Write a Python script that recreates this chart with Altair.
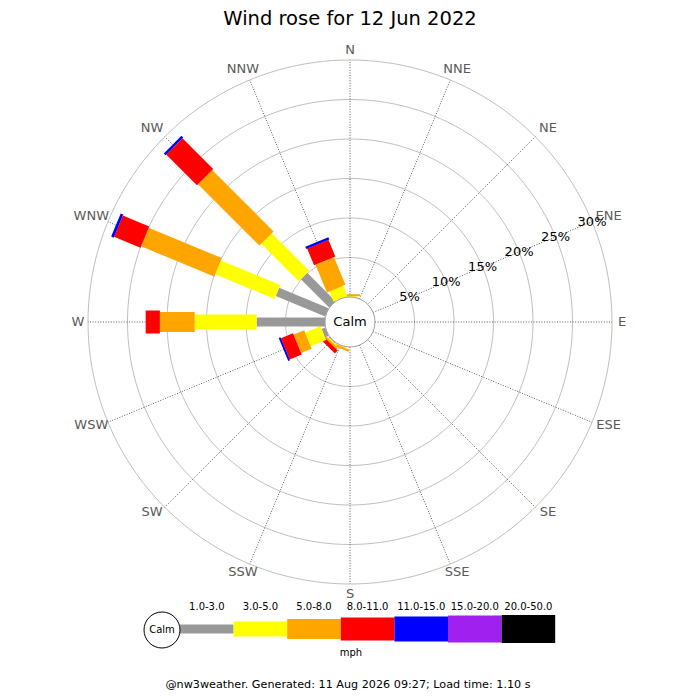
import math
import altair as alt
import pandas as pd

# ---------------- data ----------------
directions = ["N", "NNE", "NE", "ENE", "E", "ESE", "SE", "SSE",
              "S", "SSW", "SW", "WSW", "W", "WNW", "NW", "NNW"]
speed_bins = ["1.0-3.0", "3.0-5.0", "5.0-8.0", "8.0-11.0",
              "11.0-15.0", "15.0-20.0", "20.0-50.0"]
bin_colors = ["#999999", "#ffff00", "#ffa500", "#ff0000",
              "#0000ff", "#a020f0", "#000000"]

# percent of the day per speed bin (same order as speed_bins)
pct_N   = [0.00, 0.10, 0.25, 0.00, 0.00, 0, 0]
pct_NNE = [0, 0, 0, 0, 0, 0, 0]
pct_NE  = [0, 0, 0, 0, 0, 0, 0]
pct_ENE = [0, 0, 0, 0, 0, 0, 0]
pct_E   = [0, 0, 0, 0, 0, 0, 0]
pct_ESE = [0, 0, 0, 0, 0, 0, 0]
pct_SE  = [0, 0, 0, 0, 0, 0, 0]
pct_SSE = [0, 0, 0, 0, 0, 0, 0]
pct_S   = [0, 0, 0, 0, 0, 0, 0]
pct_SSW = [0.00, 0.10, 0.30, 0.00, 0.00, 0, 0]
pct_SW  = [0.10, 0.15, 0.25, 0.50, 0.00, 0, 0]
pct_WSW = [0.50, 2.10, 1.45, 1.65, 0.25, 0, 0]
pct_W   = [8.65, 7.85, 4.40, 1.80, 0.00, 0, 0]
pct_WNW = [6.77, 8.15, 10.03, 3.60, 0.35, 0, 0]
pct_NW  = [5.06, 6.72, 11.00, 5.50, 0.30, 0, 0]
pct_NNW = [0.00, 1.40, 3.80, 2.30, 0.30, 0, 0]

ring_pcts = [5, 10, 15, 20, 25, 30]
title_text = "Wind rose for 12 Jun 2022"
unit_text = "mph"
footer_text = "@nw3weather. Generated: 11 Aug 2026 09:27; Load time: 1.10 s"

freq = dict(zip(directions, [pct_N, pct_NNE, pct_NE, pct_ENE, pct_E, pct_ESE,
                             pct_SE, pct_SSE, pct_S, pct_SSW, pct_SW, pct_WSW,
                             pct_W, pct_WNW, pct_NW, pct_NNW]))

# ---------------- geometry / style ----------------
bar_widths = [9, 15, 20, 23, 25, 27, 28]      # px, per speed bin
K = 7.9                                       # px per percent
CALM_PX = 25
C = CALM_PX / K                               # calm radius in percent units
CX, CY = 350, 322                             # page position of the centre
W = H = 684
FONT = "DejaVu Sans"


def ux(px):
    return (px - CX) / K


def uy(py):
    return (CY - py) / K


xs = alt.Scale(domain=[ux(8), ux(8 + W)], nice=False, zero=False)
ys = alt.Scale(domain=[uy(8 + H), uy(8)], nice=False, zero=False)

# bar segments
seg = []
for i, d in enumerate(directions):
    th = math.radians(i * 22.5)
    cum = 0.0
    for b, v in enumerate(freq[d]):
        if v <= 0:
            continue
        r0, r1 = C + cum, C + cum + v
        seg.append(dict(x=r0 * math.sin(th), y=r0 * math.cos(th),
                        x2=r1 * math.sin(th), y2=r1 * math.cos(th),
                        color=bin_colors[b], w=bar_widths[b]))
        cum += v
seg_df = pd.DataFrame(seg)

# rings
ring_rows = []
for p in ring_pcts:
    for a in range(0, 361, 2):
        t = math.radians(a)
        ring_rows.append(dict(ring=p, a=a, x=(C + p) * math.sin(t), y=(C + p) * math.cos(t)))
ring_df = pd.DataFrame(ring_rows)

# radial lines
rad_rows = []
for i, d in enumerate(directions):
    th = math.radians(i * 22.5)
    r1 = C + ring_pcts[-1]
    rad_rows.append(dict(x=C * math.sin(th), y=C * math.cos(th),
                         x2=r1 * math.sin(th), y2=r1 * math.cos(th)))
rad_df = pd.DataFrame(rad_rows)

# texts
txt = []
for i, d in enumerate(directions):
    th = math.radians(i * 22.5)
    off = 0 if len(d) == 1 else 8
    px = 272 * math.sin(th) + off * math.sin(th)
    py = 272 * math.cos(th) + (2 * abs(math.sin(2 * th)))
    txt.append(dict(x=px / K, y=py / K, text=d, size=13, color="#5a5a5a"))
th_lab = math.radians(67.5)
for p in ring_pcts:
    txt.append(dict(x=(C + p) * math.sin(th_lab), y=(C + p) * math.cos(th_lab),
                    text=f"{p}%", size=13, color="#000000"))
txt.append(dict(x=0, y=0, text="Calm", size=13, color="#000000"))
txt.append(dict(x=ux(350), y=uy(18.5), text=title_text, size=19.5, color="#000000"))

LEG_X0, LEG_STEP, LEG_Y = 180, 53.6, 629
leg = []
for b, name in enumerate(speed_bins):
    x0 = LEG_X0 + b * LEG_STEP
    leg.append(dict(x=ux(x0), x2=ux(x0 + LEG_STEP), y=uy(LEG_Y), y2=uy(LEG_Y),
                    color=bin_colors[b], w=bar_widths[b]))
    txt.append(dict(x=ux(x0 + LEG_STEP / 2), y=uy(607), text=name, size=10, color="#000000"))
leg_df = pd.DataFrame(leg)
txt.append(dict(x=ux(162), y=uy(630), text="Calm", size=10, color="#000000"))
txt.append(dict(x=ux(351), y=uy(653), text=unit_text, size=10, color="#000000"))
txt.append(dict(x=ux(348), y=uy(685), text=footer_text, size=11.2, color="#000000"))
txt_df = pd.DataFrame(txt)

calm_df = pd.DataFrame([dict(x=0.0, y=0.0, s=(2 * CALM_PX) ** 2, stroke="#a0a0a0"),
                        dict(x=ux(162), y=uy(630), s=36 ** 2, stroke="#000000")])

X = lambda f: alt.X(f, scale=xs, axis=None)
Y = lambda f: alt.Y(f, scale=ys, axis=None)

rings = alt.Chart(ring_df).mark_line(stroke="#b8b8b8", strokeWidth=0.9).encode(
    x=X("x:Q"), y=Y("y:Q"), detail="ring:N", order="a:Q")

radials = alt.Chart(rad_df).mark_rule(stroke="#333333", strokeWidth=0.8, strokeDash=[1, 1.6]).encode(
    x=X("x:Q"), y=Y("y:Q"), x2="x2:Q", y2="y2:Q")

bars = alt.Chart(seg_df).mark_rule(strokeCap="butt").encode(
    x=X("x:Q"), y=Y("y:Q"), x2="x2:Q", y2="y2:Q",
    color=alt.Color("color:N", scale=None),
    size=alt.Size("w:Q", scale=None))

legend_bars = alt.Chart(leg_df).mark_rule(strokeCap="butt").encode(
    x=X("x:Q"), y=Y("y:Q"), x2="x2:Q", y2="y2:Q",
    color=alt.Color("color:N", scale=None),
    size=alt.Size("w:Q", scale=None))

calm = alt.Chart(calm_df).mark_point(shape="circle", filled=True, fill="white",
                                     opacity=1, strokeWidth=1).encode(
    x=X("x:Q"), y=Y("y:Q"),
    size=alt.Size("s:Q", scale=None),
    stroke=alt.Stroke("stroke:N", scale=None))

texts = alt.Chart(txt_df).mark_text(font=FONT, align="center", baseline="middle").encode(
    x=X("x:Q"), y=Y("y:Q"), text="text:N",
    size=alt.Size("size:Q", scale=None),
    color=alt.Color("color:N", scale=None))

chart = alt.layer(rings, radials, bars, legend_bars, calm, texts).properties(
    width=W, height=H, autosize=alt.AutoSizeParams(type="none"), padding=0,
    background="white"
).configure_view(stroke=None)

chart.save("out.html", embed_options={"renderer": "svg", "actions": False})
